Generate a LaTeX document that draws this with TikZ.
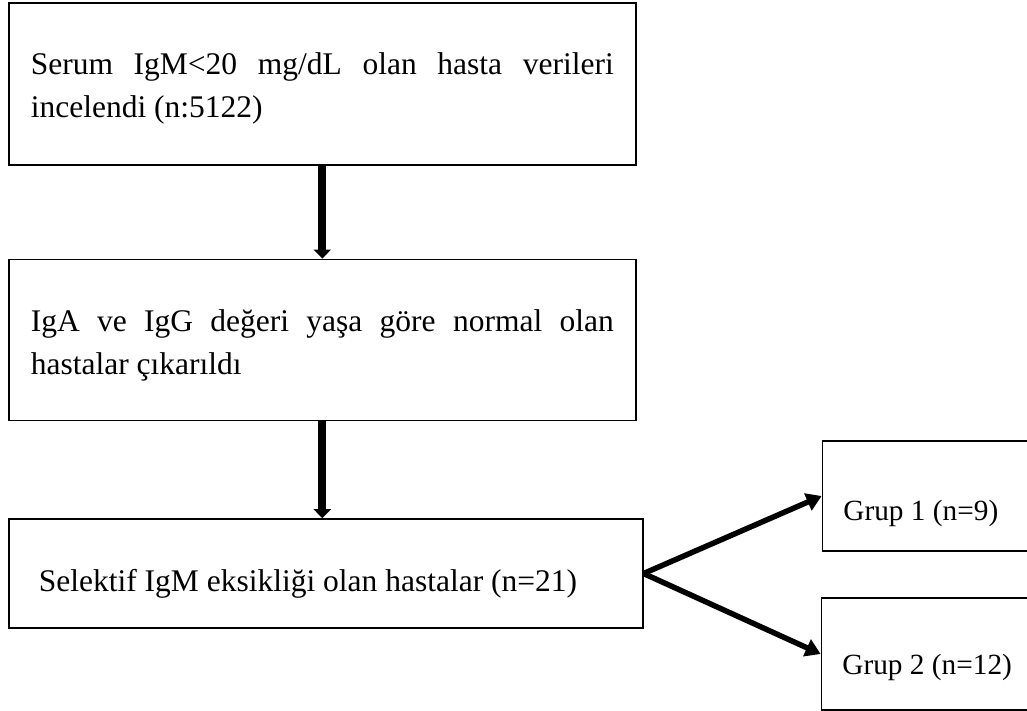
\documentclass[tikz,border=0pt]{standalone}
\usepackage{fontspec}
\setmainfont{Liberation Serif}
\usetikzlibrary{positioning,arrows.meta}
\hyphenpenalty=10000
\exhyphenpenalty=10000

\begin{document}
\begin{tikzpicture}[node distance=93pt,
                    main box/.style={rectangle,draw,line width=1.6pt,inner xsep=22pt,
                                     font=\fontsize{31.5}{43}\selectfont},
                    grup box/.style={rectangle,draw,line width=1.6pt,inner xsep=21pt,align=flush left,
                                     minimum width=212pt,text width=170pt,text depth=0pt,
                                     font=\fontsize{29.3}{35}\selectfont},
                    thick arrow/.style={line width=8pt,-{Triangle[width=17pt,length=9pt]}},
                    side arrow/.style={line width=5.5pt,-{Triangle[width=18pt,length=15pt]}}]

  \useasboundingbox (0,0) rectangle (1027pt,-710pt);

  \node[main box, anchor=north west, minimum width=627pt, minimum height=162pt,
        text width=583pt, align=justify, text height=22pt, text depth=40pt]
        (veri) at (8pt,-2pt) {Serum IgM<20 mg/dL olan hasta verileri incelendi (n:5122)};
  \node[main box, minimum width=627pt, minimum height=161pt,
        text width=583pt, align=justify, text height=22pt, text depth=39pt]
        (cikar) [below=93pt of veri] {IgA ve IgG değeri yaşa göre normal olan hastalar çıkarıldı};
  \node[main box, inner xsep=30pt, minimum width=634pt, minimum height=109pt,
        text width=574pt, align=flush left, text height=35pt, text depth=0pt]
        (secim) [below=97pt of cikar.south west, anchor=north west] {Selektif IgM eksikliği olan hastalar (n=21)};
  \node[grup box, minimum height=110pt, text height=48pt]
        (grup1) [right=178pt of secim.east, yshift=77.5pt] {Grup 1 (n=9)};
  \node[grup box, minimum height=112pt, text height=40pt]
        (grup2) [right=177pt of secim.east, yshift=-80.5pt] {Grup 2 (n=12)};

  \path
    (veri) edge[thick arrow] (cikar)
    (cikar.south) edge[thick arrow] (cikar.south |- secim.north)

    (secim.east) edge[side arrow] (grup1.west)
                 edge[side arrow] (grup2.west);

\end{tikzpicture}
\end{document}
